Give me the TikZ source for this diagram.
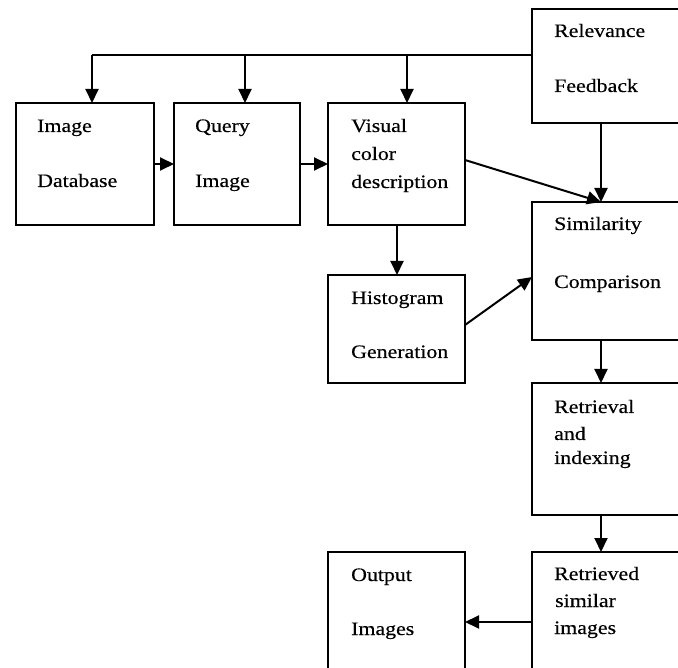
\documentclass[tikz,border=0pt]{standalone}
\usepackage{fontspec}
\setmainfont{Liberation Serif}[FakeStretch=1.15,FakeBold=0.4]
\usetikzlibrary{arrows.meta,calc}
\begin{document}
\begin{tikzpicture}[x=1pt,y=-1pt,
  boxstyle/.style={draw,line width=2pt,inner sep=0pt,outer sep=0pt},
  lbl/.style={anchor=base west,inner sep=0pt,font=\fontsize{19}{22}\selectfont},
  arr/.style={line width=2pt,-{Triangle[length=14pt,width=13pt]}},
  ln/.style={line width=2pt}]
\useasboundingbox (0,0) rectangle (678,668);
\clip (0,0) rectangle (678,668);
\fill[white] (0,0) rectangle (678,668);
% boxes
\node (dbb) [boxstyle,minimum width=138pt,minimum height=122pt] at (85,164) {};
\node (qib) [boxstyle,minimum width=126pt,minimum height=122pt] at (237,164) {};
\node (vcb) [boxstyle,minimum width=137pt,minimum height=122pt] at (396.5,164) {};
\node (rfb) [boxstyle,minimum width=168pt,minimum height=114pt] at (616,66) {};
\node (scb) [boxstyle,minimum width=168pt,minimum height=138pt] at (616,271) {};
\node (hgb) [boxstyle,minimum width=137pt,minimum height=108pt] at (396.5,329) {};
\node (rib) [boxstyle,minimum width=168pt,minimum height=132pt] at (616,449) {};
\node (rsb) [boxstyle,minimum width=168pt,minimum height=148pt] at (616,626) {};
\node (oib) [boxstyle,minimum width=137pt,minimum height=148pt] at (396.5,626) {};
% labels
\node[lbl] (t1) at (37,132) {Image};
\node[lbl] (t2) at (37,187) {Database};
\node[lbl] (t3) at (195,132) {Query};
\node[lbl] (t4) at (195,187) {Image};
\node[lbl] (t5) at (351,132) {Visual};
\node[lbl] (t6) at (351,160) {color};
\node[lbl] (t7) at (351,188) {description};
\node[lbl] (t8) at (554,37) {Relevance};
\node[lbl] (t9) at (554,92) {Feedback};
\node[lbl] (t10) at (554,230) {Similarity};
\node[lbl] (t11) at (554,288) {Comparison};
\node[lbl] (t12) at (351,304) {Histogram};
\node[lbl] (t13) at (351,358) {Generation};
\node[lbl] (t14) at (554,413) {Retrieval};
\node[lbl] (t15) at (554,440) {and};
\node[lbl] (t16) at (554,464) {indexing};
\node[lbl] (t17) at (554,580) {Retrieved};
\node[lbl] (t18) at (555,607) {similar};
\node[lbl] (t19) at (554,634) {images};
\node[lbl] (t20) at (351,581) {Output};
\node[lbl] (t21) at (351,635) {Images};
% connectors
\coordinate (bus0) at (532,55);
\coordinate (b1) at (92,55);
\coordinate (b2) at (245,55);
\coordinate (b3) at (407,55);
\coordinate (fx) at (601,0);
\coordinate (vx) at (397,0);
\coordinate (vcout) at (465,160);
\coordinate (hgout) at (465,325);
\coordinate (scin) at (532,277);
\coordinate (rsy) at (0,622);
\draw[ln] (bus0) -- (b1);
\draw[arr] (b1) -- (b1 |- dbb.north);
\draw[arr] (b2) -- (b2 |- qib.north);
\draw[arr] (b3) -- (b3 |- vcb.north);
\draw[arr] (dbb.east) -- (qib.west);
\draw[arr] (qib.east) -- (vcb.west);
\draw[arr] (fx |- rfb.south) -- (fx |- scb.north);
\draw[arr] (vcout) -- (fx |- scb.north);
\draw[arr] (vx |- vcb.south) -- (vx |- hgb.north);
\draw[arr] (hgout) -- (scin);
\draw[arr] (fx |- scb.south) -- (fx |- rib.north);
\draw[arr] (fx |- rib.south) -- (fx |- rsb.north);
\draw[arr] (rsb.west |- rsy) -- (oib.east |- rsy);
\end{tikzpicture}
\end{document}
